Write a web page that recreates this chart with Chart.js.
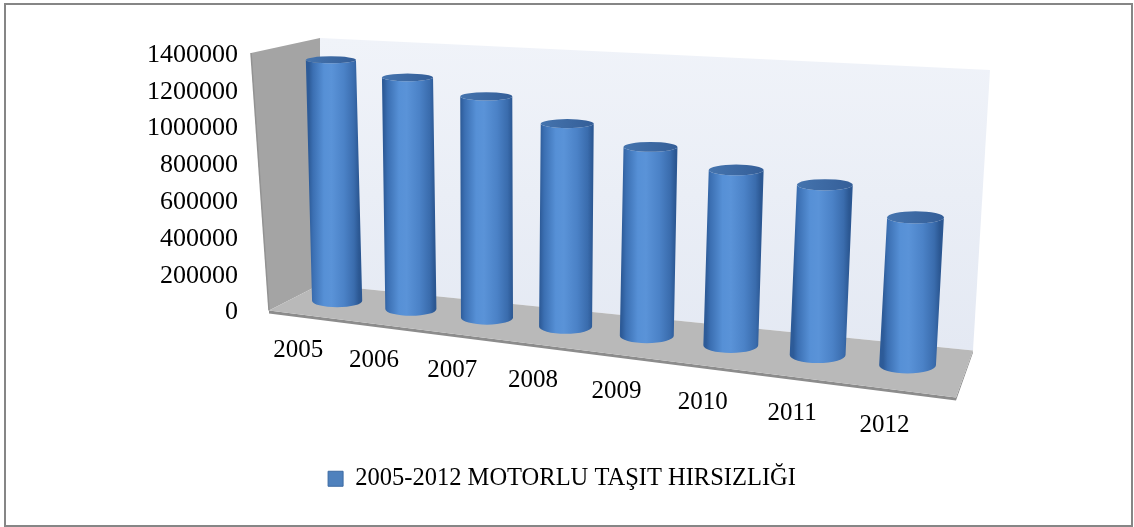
<!DOCTYPE html>
<html>
<head>
<meta charset="utf-8">
<script src="https://cdn.jsdelivr.net/npm/chart.js@4.4.0/dist/chart.umd.min.js"></script>
<style>
  html, body { margin: 0; padding: 0; background: #fff; }
  #wrap { width: 1134px; height: 527px; }
</style>
</head>
<body>
<div id="wrap"><canvas id="myChart" width="1134" height="527"></canvas></div>
<script>
// veriler (grafikten okunan yaklaşık değerler)
const years = ['2005', '2006', '2007', '2008', '2009', '2010', '2011', '2012'];
const thefts = [1330000, 1260000, 1185000, 1070000, 980000, 895000, 855000, 730000];
const seriesName = '2005-2012 MOTORLU TAŞIT HIRSIZLIĞI';
const yMax = 1400000;
const yStep = 200000;

const serif = "'Liberation Serif', 'Times New Roman', serif";
Chart.defaults.font.family = serif;
Chart.defaults.color = '#000';

// 3B kutunun köşeleri (chartArea'ya göre)
function corners(a) {
  return {
    flb: [a.left + 19, a.bottom], flt: [a.left + 1, a.top],
    blb: [a.left + 70, a.bottom - 26], blt: [a.left + 70, a.top - 15],
    frb: [a.right - 34, a.bottom + 87], frt: [a.right - 16, a.top + 51],
    brb: [a.right - 17, a.bottom + 40], brt: [a.right, a.top + 17]
  };
}
function lerp(p, q, t) { return [p[0] + (q[0] - p[0]) * t, p[1] + (q[1] - p[1]) * t]; }
function project(c, u, v, d) {
  const fb = lerp(c.flb, c.frb, u), ft = lerp(c.flt, c.frt, u);
  const bb = lerp(c.blb, c.brb, u), bt = lerp(c.blt, c.brt, u);
  return lerp(lerp(fb, ft, v), lerp(bb, bt, v), d);
}
// perspektif: sağ taraf daha yakın
function warp(u) { return 0.0061 + 0.8554 * u / (1 - 0.124 * u); }

function poly(ctx, pts) {
  ctx.beginPath();
  ctx.moveTo(pts[0][0], pts[0][1]);
  for (let i = 1; i < pts.length; i++) ctx.lineTo(pts[i][0], pts[i][1]);
  ctx.closePath();
}

const scenePlugin = {
  id: 'scene3d',
  beforeDraw(chart) {
    const ctx = chart.ctx;
    const a = chart.chartArea;
    const c = corners(a);
    ctx.save();
    ctx.fillStyle = '#fff';
    ctx.fillRect(0, 0, chart.width, chart.height);
    // dış çerçeve
    ctx.strokeStyle = '#868686';
    ctx.lineWidth = 2;
    ctx.strokeRect(5, 4, chart.width - 7, chart.height - 5);

    // arka duvar
    const g = ctx.createLinearGradient(0, c.blt[1], 0, c.brb[1]);
    g.addColorStop(0, '#f0f3f9');
    g.addColorStop(1, '#e4e9f3');
    ctx.fillStyle = g;
    poly(ctx, [c.blt, c.brt, c.brb, c.blb]);
    ctx.fill();

    // sol duvar
    ctx.fillStyle = '#a4a4a4';
    poly(ctx, [c.flt, c.blt, c.blb, c.flb]);
    ctx.fill();
    ctx.strokeStyle = '#929292';
    ctx.lineWidth = 1.5;
    ctx.beginPath();
    ctx.moveTo(c.flt[0], c.flt[1]);
    ctx.lineTo(c.flb[0], c.flb[1]);
    ctx.stroke();

    // zemin
    ctx.fillStyle = '#8c8c8c';
    poly(ctx, [[c.flb[0], c.flb[1] + 3], [c.frb[0], c.frb[1] + 3], [c.brb[0], c.brb[1] + 2], c.brb, c.frb, c.flb]);
    ctx.fill();
    ctx.fillStyle = '#b9b9b9';
    poly(ctx, [c.flb, c.blb, c.brb, c.frb]);
    ctx.fill();
    ctx.restore();
  },
  beforeDatasetsDraw(chart) {
    const ctx = chart.ctx;
    const a = chart.chartArea;
    const c = corners(a);
    const meta = chart.getDatasetMeta(0);
    const yScale = chart.scales.y;
    const base = yScale.getPixelForValue(0);
    const full = base - yScale.getPixelForValue(yMax);
    const depth = 0.55;

    ctx.save();
    meta.data.forEach((el, i) => {
      const uc = (el.x - a.left) / (a.right - a.left);
      const uw = warp(uc);
      const v = (base - el.y) / full;
      const b = project(c, uw, 0, depth);
      const t = project(c, uw, v, depth);
      const rx = (el.width / 2) * (0.79 + 0.12 * uc);
      const ryb = rx * (0.14 + 0.0005 * (b[1] - 60));
      const ryt = rx * (0.14 + 0.0005 * (t[1] - 60));
      const mx = (b[0] + t[0]) / 2;

      const body = ctx.createLinearGradient(mx - rx, 0, mx + rx, 0);
      body.addColorStop(0, '#2d5b98');
      body.addColorStop(0.08, '#3b6fb2');
      body.addColorStop(0.3, '#5690d6');
      body.addColorStop(0.45, '#5a93d8');
      body.addColorStop(0.7, '#4b82c7');
      body.addColorStop(0.9, '#3a6cad');
      body.addColorStop(1, '#2b5792');
      ctx.fillStyle = body;
      ctx.beginPath();
      ctx.moveTo(t[0] - rx, t[1]);
      ctx.lineTo(b[0] - rx, b[1]);
      ctx.ellipse(b[0], b[1], rx, ryb, 0, Math.PI, 0, true);
      ctx.lineTo(t[0] + rx, t[1]);
      ctx.ellipse(t[0], t[1], rx, ryt, 0, 0, Math.PI, false);
      ctx.closePath();
      ctx.fill();

      const top = ctx.createLinearGradient(t[0] - rx, 0, t[0] + rx, 0);
      top.addColorStop(0, '#4574ae');
      top.addColorStop(1, '#345e98');
      ctx.fillStyle = top;
      ctx.beginPath();
      ctx.ellipse(t[0], t[1], rx, ryt, 0, 0, Math.PI * 2);
      ctx.fill();

      // kategori etiketi (ön kenarın altında)
      const f = project(c, uw, 0, 0);
      ctx.fillStyle = '#000';
      ctx.font = '25px ' + serif;
      ctx.textAlign = 'center';
      ctx.textBaseline = 'middle';
      ctx.fillText(years[i], f[0] - 12, f[1] + 35);
    });
    ctx.restore();
    return false;
  }
};

const ctx = document.getElementById('myChart').getContext('2d');
const myChart = new Chart(ctx, {
  type: 'bar',
  data: {
    labels: years,
    datasets: [{
      label: seriesName,
      data: thefts,
      backgroundColor: '#4f81bd',
      borderColor: '#3c6aa3',
      borderWidth: 1,
      barPercentage: 0.68,
      categoryPercentage: 1
    }]
  },
  options: {
    responsive: false,
    animation: false,
    layout: { padding: { left: 134, right: 144, top: 53, bottom: 26 } },
    plugins: {
      tooltip: { enabled: false },
      legend: {
        position: 'bottom',
        labels: {
          font: { size: 24.5, family: serif },
          color: '#000',
          boxWidth: 15,
          boxHeight: 15
        }
      }
    },
    scales: {
      x: {
        grid: { display: false, drawTicks: false },
        border: { display: false },
        ticks: { display: false },
        afterFit(scale) { scale.height = 146; }
      },
      y: {
        min: 0,
        max: yMax,
        grid: { display: false, drawTicks: false },
        border: { display: false },
        ticks: {
          stepSize: yStep,
          padding: 12,
          labelOffset: 2,
          font: { size: 26, family: serif },
          color: '#000',
          callback: (value) => String(value)
        },
        afterFit(scale) { scale.width = 116; }
      }
    }
  },
  plugins: [scenePlugin]
});
</script>
</body>
</html>
